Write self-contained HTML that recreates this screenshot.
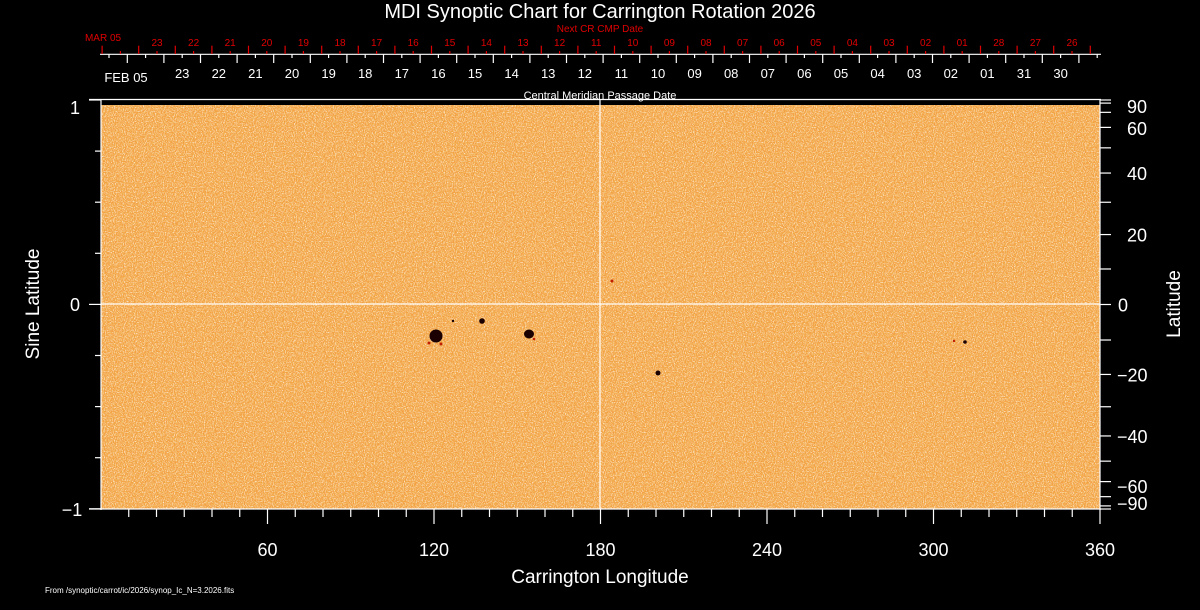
<!DOCTYPE html>
<html><head><meta charset="utf-8"><style>
html,body{margin:0;padding:0;background:#000;}
svg{display:block}
text{font-family:"Liberation Sans",sans-serif;}
</style></head><body>
<svg id="s" width="1200" height="610" viewBox="0 0 1200 610" xmlns="http://www.w3.org/2000/svg">
<defs>
<filter id="nz" x="0" y="0" width="100%" height="100%">
<feTurbulence type="fractalNoise" baseFrequency="0.9 0.8" numOctaves="2" seed="3" result="t"/>
<feColorMatrix in="t" type="matrix" values="0 0 0 0 0.98  0 0 0 0 0.82  0 0 0 0 0.62  3 0 0 0 -1.3"/>
</filter>
<filter id="nz2" x="0" y="0" width="100%" height="100%">
<feTurbulence type="fractalNoise" baseFrequency="0.85 0.9" numOctaves="2" seed="11" result="t"/>
<feColorMatrix in="t" type="matrix" values="0 0 0 0 0.9  0 0 0 0 0.5  0 0 0 0 0.1  3 0 0 0 -1.4"/>
</filter>
</defs>
<rect x="101" y="105" width="999" height="404" fill="#f29e40"/>
<rect x="101" y="105" width="999" height="404" filter="url(#nz)"/>
<rect x="101" y="105" width="999" height="404" filter="url(#nz2)"/>
<g fill="#1a0000">
<circle cx="436" cy="336" r="6.5"/><circle cx="482" cy="321" r="2.8"/>
<ellipse cx="529" cy="334" rx="5" ry="4.5"/><circle cx="658" cy="373" r="2.5"/>
<circle cx="965" cy="342" r="1.8"/><circle cx="453" cy="321" r="1.2"/>
</g>
<g fill="#c02000"><circle cx="429" cy="343" r="1.5"/><circle cx="441" cy="344" r="1.5"/><circle cx="612" cy="281" r="1.5"/><circle cx="954" cy="341" r="1.2"/><circle cx="534" cy="339" r="1.3"/></g>
<g stroke="#fff" stroke-width="1.2" fill="none">
<line x1="89" y1="99.5" x2="1101" y2="99.5"/>
<line x1="101" y1="99" x2="101" y2="510"/>
<line x1="1100" y1="99" x2="1100" y2="510"/>
<line x1="89" y1="509" x2="1101" y2="509"/>
<line x1="600" y1="99" x2="600" y2="509"/>
<line x1="101" y1="304" x2="1100" y2="304"/>
<line x1="100" y1="54.3" x2="1101" y2="54.3"/>
</g>
<g id="tk" stroke-width="1.2"></g>
<g id="lb" fill="#fff"></g>
<text x="600" y="18" fill="#fff" font-size="20" text-anchor="middle">MDI Synoptic Chart for Carrington Rotation 2026</text>
<text x="600" y="32" fill="#e00000" font-size="10" text-anchor="middle">Next CR CMP Date</text>
<text x="600" y="99" fill="#fff" font-size="11" text-anchor="middle">Central Meridian Passage Date</text>
<text x="103" y="41" fill="#e00000" font-size="10" text-anchor="middle">MAR 05</text>
<text x="126" y="82" fill="#fff" font-size="13" text-anchor="middle">FEB 05</text>
<text x="600" y="583" fill="#fff" font-size="19" text-anchor="middle">Carrington Longitude</text>
<text transform="translate(39,304) rotate(-90)" fill="#fff" font-size="19" text-anchor="middle">Sine Latitude</text>
<text transform="translate(1180,304) rotate(-90)" fill="#fff" font-size="19" text-anchor="middle">Latitude</text>
<text x="75" y="114" fill="#fff" font-size="18" text-anchor="middle">1</text>
<text x="75" y="311" fill="#fff" font-size="18" text-anchor="middle">0</text>
<text x="72" y="516" fill="#fff" font-size="18" text-anchor="middle">−1</text>
<text x="45" y="593" fill="#fff" font-size="8">From /synoptic/carrot/ic/2026/synop_Ic_N=3.2026.fits</text>
</svg>
<script>
var NS="http://www.w3.org/2000/svg",tk=document.getElementById("tk"),lb=document.getElementById("lb");
function L(x1,y1,x2,y2,c){var l=document.createElementNS(NS,"line");l.setAttribute("x1",x1);l.setAttribute("y1",y1);l.setAttribute("x2",x2);l.setAttribute("y2",y2);l.setAttribute("stroke",c||"#fff");tk.appendChild(l);}
function T(x,y,s,fs,c,a){var t=document.createElementNS(NS,"text");t.setAttribute("x",x);t.setAttribute("y",y);t.setAttribute("font-size",fs);t.setAttribute("text-anchor",a||"middle");if(c)t.setAttribute("fill",c);t.textContent=s;lb.appendChild(t);}
var red=["23","22","21","20","19","18","17","16","15","14","13","12","11","10","09","08","07","06","05","04","03","02","01","28","27","26"];
for(var k=0;k<28;k++){var x=102.1+36.6*k;L(x,45.7,x,54,"#e00000");if(k<27)L(x+18.3,51,x+18.3,54,"#e00000");if(k>=1&&k<=26)T(x+18.3,46,red[k-1],10,"#e00000");}
var wh=["23","22","21","20","19","18","17","16","15","14","13","12","11","10","09","08","07","06","05","04","03","02","01","31","30"];
for(var k=0;k<27;k++){var x=127.3+36.6*k;if(x<1101)L(x,54,x,63);var m=x+18.3;if(m<1101)L(m,54,m,58);if(k>=1&&k<=25)T(m,78,wh[k-1],13);}
L(109,54,109,58);
for(var lon=10;lon<=360;lon+=10){var x=101+lon*999/360;L(x,509,x,lon%60?517:524);if(lon%60==0)T(x,556,String(lon),18);}
for(var i=0;i<=8;i++){var y=100+i*51.1;L(i%4?95:89,y,101,y);}
for(var lat=-90;lat<=90;lat+=10){var y=304.5-204.5*Math.sin(lat*Math.PI/180);L(1100,y,1111,y);}
[[90,"90"],[60,"60"],[40,"40"],[20,"20"],[0,"0"],[-20,"−20"],[-40,"−40"],[-60,"−60"],[-90,"−90"]].forEach(function(p){var lat=p[0];var y=304.5-204.5*Math.sin(lat*Math.PI/180);if(lat==90)y=106;if(lat==-90)y=503;if(lat==-60)y=486;if(lat==60)y=128;T(lat<0?1117:(lat==0?1118:1127),y+7,p[1],18,null,"start");});
</script>
</body></html>
